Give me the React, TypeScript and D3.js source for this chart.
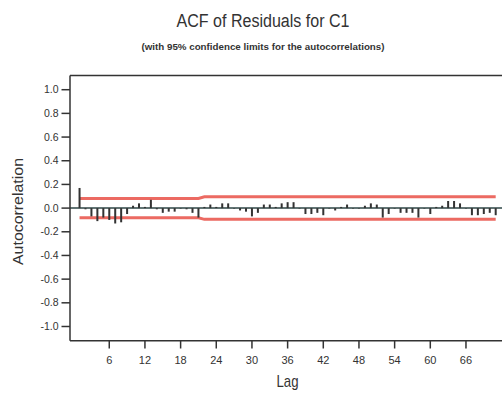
import React from "react";
import * as d3 from "d3";

// Residual autocorrelations for lags 1..71
const lags: number[] = Array.from({ length: 71 }, (_, i) => i + 1);
const acf: number[] = [
  0.17, -0.01, -0.07, -0.11, -0.08, -0.1, -0.13, -0.12, -0.05, 0.02,
  0.04, 0.01, 0.07, -0.01, -0.04, -0.03, -0.03, 0.0, -0.01, -0.04,
  -0.08, 0.01, 0.03, 0.01, 0.04, 0.04, 0.0, -0.02, -0.03, -0.07,
  -0.04, 0.03, 0.03, 0.01, 0.04, 0.05, 0.05, 0.0, -0.05, -0.05,
  -0.04, -0.06, 0.0, -0.02, 0.01, 0.03, 0.0, 0.0, 0.02, 0.04,
  0.03, -0.08, -0.05, 0.0, -0.04, -0.04, -0.04, -0.08, 0.0, -0.05,
  0.01, 0.02, 0.06, 0.06, 0.04, 0.0, -0.06, -0.06, -0.05, -0.04,
  -0.06,
];
// 95% confidence limit (half-width) at each lag
const confLimit: number[] = [
  0.082, 0.082, 0.082, 0.082, 0.082, 0.082, 0.082, 0.082, 0.082, 0.082,
  0.082, 0.082, 0.082, 0.082, 0.082, 0.082, 0.082, 0.082, 0.082, 0.082,
  0.082, 0.095, 0.095, 0.095, 0.095, 0.095, 0.095, 0.095, 0.095, 0.095,
  0.095, 0.095, 0.095, 0.095, 0.095, 0.095, 0.095, 0.095, 0.095, 0.095,
  0.095, 0.095, 0.095, 0.095, 0.095, 0.095, 0.095, 0.095, 0.095, 0.095,
  0.095, 0.095, 0.095, 0.095, 0.095, 0.095, 0.095, 0.095, 0.095, 0.095,
  0.095, 0.095, 0.095, 0.095, 0.095, 0.095, 0.095, 0.095, 0.095, 0.095,
  0.095,
];
const xTicks: number[] = [6, 12, 18, 24, 30, 36, 42, 48, 54, 60, 66];
const yTicks: number[] = [1.0, 0.8, 0.6, 0.4, 0.2, 0.0, -0.2, -0.4, -0.6, -0.8, -1.0];

const W = 502;
const H = 394;
const left = 70;
const top = 75.5;
const bottom = 340.7;
const right = 502;

const FONT = "'Liberation Sans', Arial, sans-serif";
const INK = "#333";

export default function App() {
  const x = d3.scaleLinear().domain([0, 71.5]).range([73.6, 73.6 + 71.5 * 5.945]);
  const y = d3.scaleLinear().domain([-1.12, 1.12]).range([bottom, top]);

  const limitLine = (sign: number) =>
    d3
      .line<number>()
      .x((_, i) => x(lags[i]))
      .y((d) => y(sign * d))(confLimit) || "";

  return (
    <svg
      width={W}
      height={H}
      style={{ position: "absolute", left: 0, top: 0, background: "#fff" }}
    >
      {/* titles */}
      <text
        x={263}
        y={26.5}
        textAnchor="middle"
        fontFamily={FONT}
        fontSize={18}
        fill={INK}
        textLength={173}
        lengthAdjust="spacingAndGlyphs"
      >
        ACF of Residuals for C1
      </text>
      <text
        x={263}
        y={49.5}
        textAnchor="middle"
        fontFamily={FONT}
        fontSize={9.5}
        fontWeight="bold"
        fill={INK}
        textLength={243}
        lengthAdjust="spacingAndGlyphs"
      >
        (with 95% confidence limits for the autocorrelations)
      </text>

      {/* confidence limits */}
      <path d={limitLine(1)} fill="none" stroke="#ec6a62" strokeWidth={3} />
      <path d={limitLine(-1)} fill="none" stroke="#ec6a62" strokeWidth={3} />

      {/* zero line */}
      <line x1={left} x2={right} y1={y(0)} y2={y(0)} stroke="#2e4646" strokeWidth={1.5} />

      {/* autocorrelation bars */}
      {acf.map((v, i) => {
        const y0 = y(0);
        const y1 = y(v);
        return (
          <rect
            key={i}
            x={x(lags[i]) - 1}
            width={2}
            y={Math.min(y0, y1)}
            height={Math.max(0.5, Math.abs(y1 - y0))}
            fill={INK}
          />
        );
      })}

      {/* frame */}
      <line x1={left} x2={right} y1={top} y2={top} stroke={INK} strokeWidth={1.5} />
      <line x1={left} x2={right} y1={bottom} y2={bottom} stroke={INK} strokeWidth={1.5} />
      <line x1={left} x2={left} y1={top} y2={bottom} stroke={INK} strokeWidth={1.5} />

      {/* y axis */}
      {yTicks.map((t) => (
        <g key={t}>
          <line x1={61.5} x2={left} y1={y(t)} y2={y(t)} stroke={INK} strokeWidth={1.5} />
          <text
            x={58.5}
            y={y(t)}
            dy="0.35em"
            textAnchor="end"
            fontFamily={FONT}
            fontSize={10.5}
            fill={INK}
          >
            {t.toFixed(1)}
          </text>
        </g>
      ))}
      <text
        transform={`translate(23,211.5) rotate(-90)`}
        textAnchor="middle"
        fontFamily={FONT}
        fontSize={14}
        fill={INK}
        textLength={107}
        lengthAdjust="spacingAndGlyphs"
      >
        Autocorrelation
      </text>

      {/* x axis */}
      {xTicks.map((t) => (
        <g key={t}>
          <line x1={x(t)} x2={x(t)} y1={bottom} y2={348.5} stroke={INK} strokeWidth={1.5} />
          <text
            x={x(t)}
            y={363.5}
            textAnchor="middle"
            fontFamily={FONT}
            fontSize={11}
            fill={INK}
          >
            {t}
          </text>
        </g>
      ))}
      <text
        x={287.5}
        y={386.5}
        textAnchor="middle"
        fontFamily={FONT}
        fontSize={17}
        fill={INK}
        textLength={22}
        lengthAdjust="spacingAndGlyphs"
      >
        Lag
      </text>
    </svg>
  );
}
